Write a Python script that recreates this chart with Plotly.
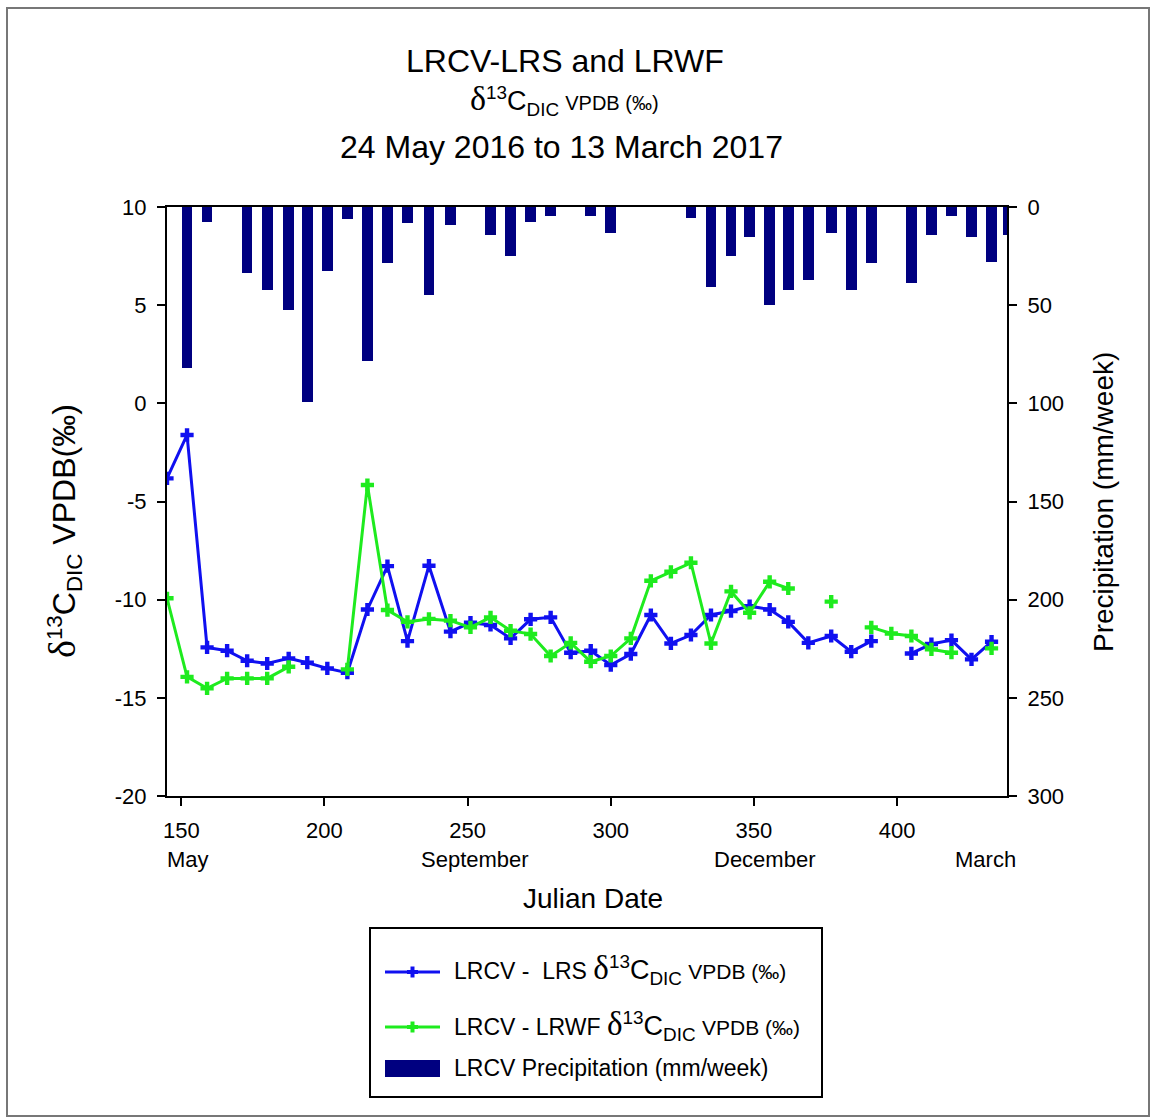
import plotly.graph_objects as go

# Julian dates of the weekly isotope samples
sample_day = [145, 152, 159, 166, 173, 180, 187.5, 194, 201, 208, 215, 222, 229, 236.5,
              244, 251, 258, 265, 272, 279, 286, 293, 300, 307, 314, 321, 328, 335,
              342, 348.5, 355.5, 362, 369, 377, 384, 391, 398, 405, 412, 419, 426, 433]

# d13C DIC (VPDB, permil) at LRCV - LRS
lrs_d13c = [-3.82, -1.61, -12.43, -12.6, -13.11, -13.25, -12.99, -13.21, -13.5, -13.72,
            -10.5, -8.29, -12.11, -8.27, -11.63, -11.17, -11.29, -11.97, -11.0, -10.9,
            -12.7, -12.6, -13.33, -12.77, -10.78, -12.23, -11.8, -10.78, -10.58, -10.33,
            -10.5, -11.13, -12.2, -11.85, -12.65, -12.11, None, -12.74, -12.26, -12.06,
            -13.04, -12.14]

# d13C DIC (VPDB, permil) at LRCV - LRWF
lrwf_d13c = [-9.93, -13.93, -14.52, -14.01, -14.01, -14.01, -13.42, None, None, -13.55,
             -4.16, -10.53, -11.13, -10.98, -11.07, -11.41, -10.9, -11.58, -11.75, -12.87,
             -12.2, -13.16, -12.87, -11.97, -9.04, -8.58, -8.12, -12.23, -9.58, -10.67,
             -9.09, -9.43, None, -10.1, None, -11.41, -11.72, -11.85, -12.53, -12.7,
             None, -12.48]

# Weekly precipitation totals (mm/week)
precip_day = [152, 159, 173, 180, 187.5, 194, 201, 208, 215, 222, 229, 236.5, 244, 258,
              265, 272, 279, 293, 300, 328, 335, 342, 348.5, 355.5, 362, 369, 377, 384,
              391, 405, 412, 419, 426, 433, 439]
precip_mm = [82.2, 7.5, 33.8, 42.5, 52.6, 99.5, 32.8, 6.3, 78.3, 28.7, 8.0, 45.0, 9.2, 14.3,
             25.1, 7.5, 4.6, 4.4, 13.2, 5.8, 40.6, 25.1, 15.5, 50.1, 42.3, 37.2, 13.1, 42.3,
             28.7, 38.9, 14.3, 4.6, 15.5, 28.0, 14.3]

x_ticks = [150, 200, 250, 300, 350, 400]
y_ticks = [10, 5, 0, -5, -10, -15, -20]
y2_ticks = [0, 50, 100, 150, 200, 250, 300]
month_labels = ["May", "September", "December", "March"]
month_days = [152.3, 252.5, 353.8, 430.8]

series_names = ["LRCV -  LRS", "LRCV - LRWF", "LRCV Precipitation (mm/week)"]

FONT = "Arial, Liberation Sans, sans-serif"
SERIF = "Liberation Serif, Times New Roman, serif"
BLUE = "#1010F0"
GREEN = "#1EEB1E"
NAVY = "#000080"

# plot-area geometry in pixels, used to place the frame, titles and legend box
L, R, T, B = 167, 1007, 207, 796
W_PX, H_PX = R - L, B - T


def px(xp):
    return (xp - L) / W_PX


def py(yp):
    return (B - yp) / H_PX


def d13c_label(delta_size, chem_size, small_size, sep=" "):
    return (f"<span style='font-family:{SERIF};font-size:{delta_size}px'>δ</span>"
            f"<span style='font-size:{chem_size}px'><sup>13</sup>C<sub>DIC</sub></span>{sep}"
            f"<span style='font-size:{small_size}px'>VPDB (‰)</span>")


fig = go.Figure()

fig.add_trace(go.Scatter(
    x=sample_day, y=lrs_d13c, mode="lines+markers", name=series_names[0],
    line=dict(color=BLUE, width=3),
    marker=dict(symbol="cross", size=11, color=BLUE),
    connectgaps=False, showlegend=False,
))

fig.add_trace(go.Scatter(
    x=sample_day, y=lrwf_d13c, mode="lines+markers", name=series_names[1],
    line=dict(color=GREEN, width=3),
    marker=dict(symbol="cross", size=11, color=GREEN),
    connectgaps=False, showlegend=False,
))

fig.add_trace(go.Bar(
    x=precip_day, y=precip_mm, yaxis="y2", width=3.7, name=series_names[2],
    marker=dict(color=NAVY, line=dict(width=0)), showlegend=False,
))

axis_common = dict(showgrid=False, zeroline=False, showline=True, linecolor="black",
                   linewidth=2, ticks="outside", ticklen=8, tickwidth=2, tickcolor="black",
                   tickfont=dict(family=FONT, size=22, color="black"))

fig.update_layout(
    width=1152, height=1118,
    margin=dict(l=L, r=1152 - R, t=T, b=1118 - B),
    paper_bgcolor="white", plot_bgcolor="white",
    font=dict(family=FONT, color="black"),
    bargap=0,
    xaxis=dict(range=[145, 438.4], tickvals=x_ticks, ticktext=[str(v) for v in x_ticks],
               mirror=True, ticklabelstandoff=6, **axis_common),
    yaxis=dict(range=[-20, 10], tickvals=y_ticks, ticktext=[str(v) for v in y_ticks],
               ticklabelstandoff=6, **axis_common),
    yaxis2=dict(range=[300, 0], overlaying="y", side="right", tickvals=y2_ticks,
                ticktext=[str(v) for v in y2_ticks], ticklabelstandoff=6, **axis_common),
    showlegend=False,
)

left_title = (f"<span style='font-family:{SERIF};font-size:38px'>δ</span>"
              "<sup>13</sup>C<sub>DIC</sub> VPDB(‰)")

annotations = [
    dict(text="LRCV-LRS and LRWF", x=px(565), y=py(61), font=dict(size=32)),
    dict(text=d13c_label(34, 27, 20), x=px(564), y=py(100), font=dict(size=22)),
    dict(text="24 May 2016 to 13 March 2017", x=px(561), y=py(147), font=dict(size=32)),
    dict(text="Julian Date", x=px(593), y=py(898), font=dict(size=28)),
    dict(text="Precipitation (mm/week)", x=px(1103), y=py(502), textangle=-90,
         font=dict(size=28)),
    dict(text=left_title, x=px(64), y=py(531), textangle=-90, font=dict(size=32)),
]
for a in annotations:
    a.update(xref="paper", yref="paper", showarrow=False, xanchor="center", yanchor="middle")
    a["font"] = dict(family=FONT, color="black", **a["font"])

for label, day in zip(month_labels, month_days):
    annotations.append(dict(text=label, x=day, xref="x", y=py(859), yref="paper",
                            showarrow=False, xanchor="center", yanchor="middle",
                            font=dict(family=FONT, size=22, color="black")))

# Legend: bordered box with a line+cross key for each isotope series and a bar key
legend_rows = [970, 1025, 1068]
legend_text = [series_names[0] + " " + d13c_label(33, 27, 21),
               series_names[1] + " " + d13c_label(33, 27, 21),
               series_names[2]]
for row, txt in zip(legend_rows, legend_text):
    annotations.append(dict(text=txt, x=px(452), y=py(row), xref="paper", yref="paper",
                            showarrow=False, xanchor="left", yanchor="middle",
                            font=dict(family=FONT, size=23, color="black")))

fig.update_layout(annotations=annotations)

shapes = [
    # outer frame
    dict(type="rect", x0=px(7), x1=px(1149), y0=py(1116), y1=py(8),
         line=dict(color="#777777", width=2)),
    # legend box
    dict(type="rect", x0=px(370), x1=px(822), y0=py(1097), y1=py(928),
         line=dict(color="black", width=2), fillcolor="white"),
    # bar key
    dict(type="rect", x0=px(385), x1=px(440), y0=py(1077), y1=py(1060),
         line=dict(width=0), fillcolor=NAVY),
]
for yrow, col in [(972, BLUE), (1027, GREEN)]:
    shapes += [
        dict(type="line", x0=px(385), x1=px(440), y0=py(yrow), y1=py(yrow),
             line=dict(color=col, width=3)),
        dict(type="line", x0=px(407), x1=px(418), y0=py(yrow), y1=py(yrow),
             line=dict(color=col, width=4)),
        dict(type="line", x0=px(412.5), x1=px(412.5), y0=py(yrow - 5.5), y1=py(yrow + 5.5),
             line=dict(color=col, width=4)),
    ]
for s in shapes:
    s.update(xref="paper", yref="paper", layer="above")
    s.setdefault("fillcolor", "rgba(0,0,0,0)")
fig.update_layout(shapes=shapes)

fig.write_html("out.html")
